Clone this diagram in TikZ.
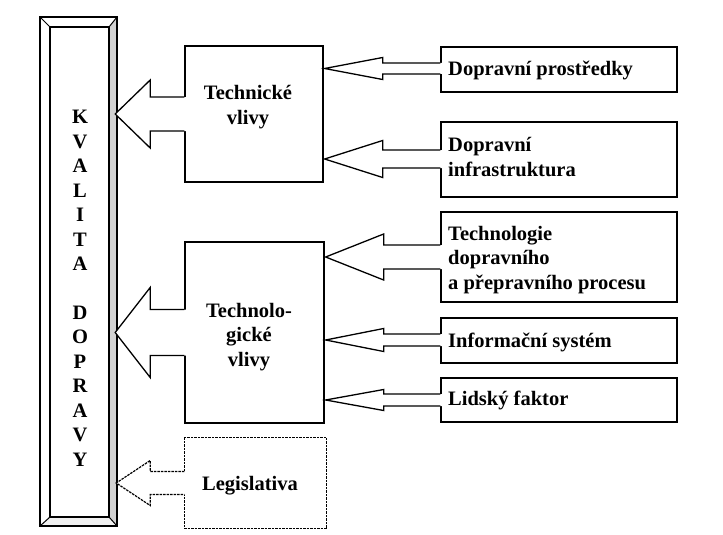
\documentclass[tikz,border=0pt]{standalone}
\usepackage{fontspec}
\setmainfont{Liberation Serif}
\usetikzlibrary{calc}
\newcommand\blockarr[6]{%
  \fill[white] let \p1=(#2), \p2=(#3) in
    (\x1+1.5pt,\y1+#4pt) -- (\x2+#6pt,\y1+#4pt) -- (\x2+#6pt,\y1+#5pt) -- (\x2,\y1)
    -- (\x2+#6pt,\y1-#5pt) -- (\x2+#6pt,\y1-#4pt) -- (\x1+1.5pt,\y1-#4pt) -- cycle;
  \draw[#1] let \p1=(#2), \p2=(#3) in
    (\x1,\y1+#4pt) -- (\x2+#6pt,\y1+#4pt) -- (\x2+#6pt,\y1+#5pt) -- (\x2,\y1)
    -- (\x2+#6pt,\y1-#5pt) -- (\x2+#6pt,\y1-#4pt) -- (\x1,\y1-#4pt);
}
\begin{document}
\begin{tikzpicture}[x=1pt,y=-1pt,
  lbl/.style={font=\fontsize{20.5}{24.5}\selectfont\bfseries, inner sep=0pt},
  lbox/.style={draw, line width=1.3pt, minimum width=#1, inner sep=0pt},
  rbox/.style={draw, line width=1.3pt, minimum width=236pt, inner sep=0pt},
  arr/.style={line width=1.3pt, line join=miter},
  dsh/.style={line width=1.2pt, dash pattern=on 2.5pt off 1pt}]
\useasboundingbox (0,0) rectangle (723,535);
\fill[white] (0,0) rectangle (723,535);

% ---- KVALITA DOPRAVY bar
\node[minimum width=77pt, minimum height=509pt, inner sep=0pt] (kv) at (78.5,271.5) {};
\coordinate (i1) at (50,27);
\coordinate (i2) at (109,27);
\coordinate (i3) at (109,517);
\coordinate (i4) at (50,517);
\fill[gray!35] (kv.north east) -- (kv.south east) -- (i3) -- (i2) -- cycle;
\fill[gray!12] (kv.south west) -- (kv.south east) -- (i3) -- (i4) -- cycle;
\draw[line width=1.8pt] (kv.north west) rectangle (kv.south east);
\draw[line width=1.2pt] (i1) rectangle (i3);
\draw[line width=1pt] (kv.north west) -- (i1) (kv.north east) -- (i2)
  (kv.south east) -- (i3) (kv.south west) -- (i4);
\node[lbl, align=center, anchor=base] (kvt) at (80,466)
  {K\\V\\A\\L\\I\\T\\A\\[24pt]D\\O\\P\\R\\A\\V\\Y};

% ---- left boxes
\node[lbox=138pt, minimum height=136pt] (tv) at (254,114) {};
\node[lbox=139pt, minimum height=181pt] (tg) at (254.5,332.5) {};
\node[lbox=141pt, minimum height=90pt, draw=none] (lg) at (255.5,483) {};
\draw[dsh] (lg.north west) rectangle (lg.south east);

% ---- right boxes
\node[rbox, minimum height=45pt] (dp) at (559,69.5) {};
\node[rbox, minimum height=75pt] (di) at (559,159.5) {};
\node[rbox, minimum height=90pt] (tp) at (559,257) {};
\node[rbox, minimum height=45pt] (is) at (559,340.5) {};
\node[rbox, minimum height=44pt] (lf) at (559,400) {};

% ---- arrows into the bar
\blockarr{arr}{tv.west}{$(kv.east |- tv.west)+(-2,0)$}{17}{34}{35}
\blockarr{arr}{tg.west}{$(kv.east |- tg.west)+(-2,0)$}{23}{45}{35}
\blockarr{dsh}{lg.west}{$(kv.east |- lg.west)+(-1,0)$}{11.5}{22.5}{34}

% ---- arrows into the middle boxes
\blockarr{arr}{$(dp.west)+(0,-1)$}{$(tv.east |- dp.west)+(1,-1)$}{5.5}{11}{58}
\blockarr{arr}{$(di.west)+(0,-0.5)$}{$(tv.east |- di.west)+(1,-0.5)$}{9}{18.5}{58}
\blockarr{arr}{tp.west}{$(tg.east |- tp.west)+(1,0)$}{12}{23}{58}
\blockarr{arr}{$(is.west)+(0,-0.5)$}{$(tg.east |- is.west)+(1,-0.5)$}{6}{11.5}{58}
\blockarr{arr}{lf.west}{$(tg.east |- lf.west)+(1,0)$}{6}{10.5}{58}

% ---- texts (multi-line nodes: base = last line)
\node[lbl, align=center, anchor=base] (tvt) at (248,124) {Technické\\vlivy};
\node[lbl, align=center, anchor=base] (tgt) at (249,366) {Technolo-\\gické\\vlivy};
\node[lbl, anchor=base] (lgt) at (250,490) {Legislativa};

\node[lbl, anchor=base west] (dpt) at (448,76) {Dopravní prostředky};
\node[lbl, align=left, anchor=base west] (dit) at (448,176) {Dopravní\\infrastruktura};
\node[lbl, align=left, anchor=base west] (tpt) at (448,289) {Technologie\\dopravního\\a přepravního procesu};
\node[lbl, anchor=base west] (ist) at (448,347) {Informační systém};
\node[lbl, anchor=base west] (lft) at (448,405) {Lidský faktor};
\end{tikzpicture}
\end{document}
